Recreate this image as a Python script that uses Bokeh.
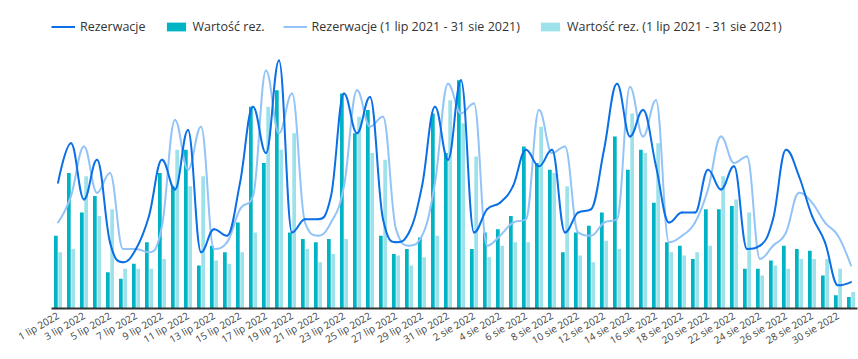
import math
from bokeh.plotting import figure
from bokeh.layouts import column
from bokeh.models import (ColumnDataSource, Range1d, FixedTicker, Legend, LegendItem)
from bokeh.transform import dodge
from bokeh.embed import file_html
from bokeh.resources import INLINE

# ---- data -------------------------------------------------------------
dates = [f"{d} lip 2022" for d in range(1, 32)] + [f"{d} sie 2022" for d in range(1, 32)]

rezerwacje = [38, 50, 33, 45, 20, 14, 18, 28, 45, 36, 54, 17, 24, 22, 38, 61, 47, 75, 23, 27,
              27, 34, 65, 53, 64, 27, 20, 23, 37, 61, 45, 69, 23, 30, 32, 37, 48, 43, 48, 23,
              29, 30, 48, 68, 52, 60, 43, 26, 29, 29, 42, 36, 43, 18, 19, 27, 48, 40, 28, 20,
              7, 8]
wartosc = [22, 41, 29, 34, 11, 9, 13.5, 20, 41, 37, 48, 13, 19, 17, 26, 61, 44, 66, 23, 21,
           20, 21, 65, 53, 60, 22, 16.5, 18, 21.5, 59, 47, 69, 18, 23, 24, 28, 49, 44, 42, 17,
           23, 25, 29, 52, 42, 48, 32, 20, 19, 15, 30, 30, 31, 12, 12, 14.5, 19, 18, 17.5, 10,
           4, 3.5]
rezerwacje_2021 = [26, 34, 49, 35, 41, 18, 18, 17, 25, 57, 42, 55, 18, 20, 30, 34, 72, 53, 65, 26,
                   22, 26, 37, 66, 55, 58, 24, 19, 22, 38, 68, 59, 62, 19, 22, 26, 27, 60, 47, 49,
                   23, 22, 26, 27, 67, 52, 63, 20, 22, 26, 36, 52, 44, 46, 15, 19, 23, 35, 32, 26,
                   22, 13]
wartosc_2021 = [17, 18, 40, 28, 30, 12, 12, 12, 15, 48, 37, 40, 14.5, 13.5, 17, 23, 61, 48, 53, 18,
                14, 16.5, 21, 58, 47, 45, 16, 13, 15.5, 22, 63, 56, 46, 15.5, 19, 20, 20, 55, 41, 37,
                16, 14, 20.5, 18, 59, 47, 50, 17, 16, 17, 19, 40, 33, 29, 10, 13, 12, 15, 15, 15,
                12, 5]

series_names = ["Rezerwacje", "Wartość rez.",
                "Rezerwacje (1 lip 2021 - 31 sie 2021)", "Wartość rez. (1 lip 2021 - 31 sie 2021)"]

x = list(range(1, len(dates) + 1))

C_LINE = "#0b6fe6"
C_LINE21 = "#93c4f7"
C_BAR = "#00b4c6"
C_BAR21 = "#9de2ea"

# ---- smooth spline (Highcharts-style control points) -----------------
def spline_segments(xs, ys, smoothing=1.5):
    n = len(xs)
    denom = smoothing + 1
    rc = [None] * n
    lc = [None] * n
    for i in range(n):
        px, py = xs[i], ys[i]
        if 0 < i < n - 1:
            lx, ly = xs[i - 1], ys[i - 1]
            nx, ny = xs[i + 1], ys[i + 1]
            lcx = (smoothing * px + lx) / denom
            lcy = (smoothing * py + ly) / denom
            rcx = (smoothing * px + nx) / denom
            rcy = (smoothing * py + ny) / denom
            corr = 0
            if rcx != lcx:
                corr = ((rcy - lcy) * (rcx - px)) / (rcx - lcx) + py - rcy
            lcy += corr
            rcy += corr
            if lcy > ly and lcy > py:
                lcy = max(ly, py); rcy = 2 * py - lcy
            elif lcy < ly and lcy < py:
                lcy = min(ly, py); rcy = 2 * py - lcy
            if rcy > ny and rcy > py:
                rcy = max(ny, py); lcy = 2 * py - rcy
            elif rcy < ny and rcy < py:
                rcy = min(ny, py); lcy = 2 * py - rcy
            lc[i] = (lcx, lcy)
            rc[i] = (rcx, rcy)
    d = dict(x0=[], y0=[], x1=[], y1=[], cx0=[], cy0=[], cx1=[], cy1=[])
    for i in range(1, n):
        a = rc[i - 1] if rc[i - 1] else (xs[i - 1], ys[i - 1])
        b = lc[i] if lc[i] else (xs[i], ys[i])
        d["x0"].append(xs[i - 1]); d["y0"].append(ys[i - 1])
        d["x1"].append(xs[i]); d["y1"].append(ys[i])
        d["cx0"].append(a[0]); d["cy0"].append(a[1])
        d["cx1"].append(b[0]); d["cy1"].append(b[1])
    return d

# ---- main chart ---------------------------------------------------------
p = figure(width=858, height=316, output_backend="svg", toolbar_location=None,
           y_axis_type=None,
           x_range=Range1d(0.5, 62.5), y_range=Range1d(0, 80.15),
           min_border_left=51, min_border_right=1, min_border_top=0, min_border_bottom=51)
p.outline_line_color = None
p.background_fill_color = "white"
p.border_fill_color = "white"
p.xgrid.visible = False
p.ygrid.ticker = FixedTicker(ticks=[10, 20, 30, 40, 50, 60, 70, 80])
p.ygrid.grid_line_color = "#e6e6e6"
p.ygrid.grid_line_width = 1

xa = p.xaxis[0]
xa.ticker = FixedTicker(ticks=x[::2])
xa.major_label_overrides = {i: dates[i - 1] for i in x[::2]}
xa.major_label_orientation = math.pi / 6
xa.major_tick_line_color = None
xa.major_tick_out = 0
xa.major_tick_in = 0
xa.minor_tick_line_color = None
xa.major_label_standoff = 6
xa.axis_line_color = "#333333"
xa.axis_line_width = 2
xa.major_label_text_font = "Open Sans"
xa.major_label_text_font_size = "10px"
xa.major_label_text_color = "#444444"

src = ColumnDataSource(dict(x=x, w=wartosc, w21=wartosc_2021))
p.vbar(x=dodge("x", -0.165, range=p.x_range), top="w", width=0.285, source=src,
       fill_color=C_BAR, line_color=None)
p.vbar(x=dodge("x", 0.165, range=p.x_range), top="w21", width=0.285, source=src,
       fill_color=C_BAR21, line_color=None)

p.bezier(source=ColumnDataSource(spline_segments(x, rezerwacje_2021)),
         x0="x0", y0="y0", x1="x1", y1="y1", cx0="cx0", cy0="cy0", cx1="cx1", cy1="cy1",
         line_color=C_LINE21, line_width=2, line_cap="round")
p.bezier(source=ColumnDataSource(spline_segments(x, rezerwacje)),
         x0="x0", y0="y0", x1="x1", y1="y1", cx0="cx0", cy0="cy0", cx1="cx1", cy1="cy1",
         line_color=C_LINE, line_width=2, line_cap="round")

# ---- legend row (separate strip above the chart) -----------------------
lg = figure(width=858, height=43, output_backend="svg", toolbar_location=None,
            x_axis_type=None, y_axis_type=None,
            x_range=Range1d(0, 858), y_range=Range1d(0, 43),
            min_border_left=0, min_border_right=0, min_border_top=0, min_border_bottom=0)
lg.grid.visible = False
lg.outline_line_color = None
lg.background_fill_color = "white"
lg.border_fill_color = "white"
nan = float("nan")
r1 = lg.line(x=[nan], y=[nan], line_color=C_LINE, line_width=2)
r2 = lg.vbar(x=[nan], top=[nan], width=1, fill_color=C_BAR, line_color=None)
r3 = lg.line(x=[nan], y=[nan], line_color=C_LINE21, line_width=2)
r4 = lg.vbar(x=[nan], top=[nan], width=1, fill_color=C_BAR21, line_color=None)

legend = Legend(items=[LegendItem(label=series_names[0], renderers=[r1]),
                       LegendItem(label=series_names[1], renderers=[r2]),
                       LegendItem(label=series_names[2], renderers=[r3]),
                       LegendItem(label=series_names[3], renderers=[r4])],
                orientation="horizontal", location=(0, 8),
                glyph_width=24, glyph_height=11, label_standoff=5, spacing=18,
                padding=0, margin=0, border_line_color=None, background_fill_alpha=0,
                label_text_font="Open Sans", label_text_font_size="12.5px",
                label_text_color="#333333")
lg.add_layout(legend)

layout = column(lg, p, spacing=0)
open("out.html", "w").write(file_html(layout, INLINE))
